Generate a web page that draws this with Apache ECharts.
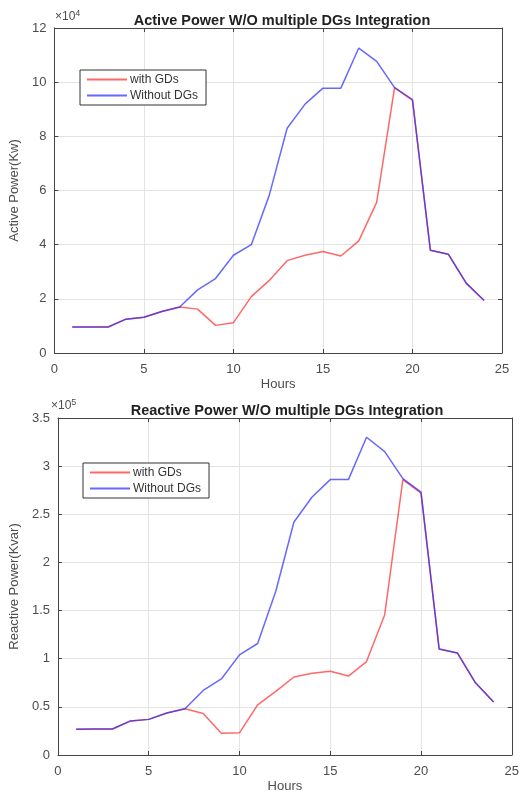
<!DOCTYPE html>
<html><head><meta charset="utf-8">
<script src="https://cdn.jsdelivr.net/npm/echarts@6/dist/echarts.min.js"></script>
<style>html,body{margin:0;padding:0;background:#fff}#c{width:522px;height:794px}</style>
</head><body><div id="c"></div>
<script>
const hours = [1,2,3,4,5,6,7,8,9,10,11,12,13,14,15,16,17,18,19,20,21,22,23,24];
const activeWithGDs = [9600,9600,9600,12500,13200,15300,17000,16200,10200,11200,20800,26800,34100,36100,37500,35800,41400,55600,98000,93300,37900,36500,25800,19400];
const activeWithoutDGs = [9600,9600,9600,12500,13200,15300,17000,23300,27500,36100,40000,58200,83000,91900,97800,97800,112600,107700,98000,93600,37900,36500,25800,19400];
const reactiveWithGDs = [26800,27000,27000,35400,37000,43600,48000,43000,22700,23000,52000,66000,81000,85000,87000,82000,97000,145700,286000,272000,110000,106000,75000,55000];
const reactiveWithoutDGs = [26800,27000,27000,35400,37000,43600,48000,67000,79000,104000,115800,170000,242000,268000,286000,286000,330000,315000,287000,273000,110000,106000,75000,55000];
const legendNames = ['with GDs','Without DGs'];

const FONT = 'Liberation Sans, Arial, sans-serif';
const TXT = '#4d4d4d';
const AX = '#444';
const pairs = (xs, ys) => xs.map((x,i)=>[x, ys[i]]);

function xAxes(gi){
  return [{
    gridIndex: gi, type:'value', min:0, max:25, interval:5, position:'bottom',
    name:'Hours', nameLocation:'middle', nameGap: 25,
    nameTextStyle:{color:TXT, fontSize:13, fontFamily:FONT},
    axisLine:{show:true, onZero:false, lineStyle:{color:AX, width:1}},
    axisTick:{show:true, inside:true, length:4, lineStyle:{color:AX}},
    axisLabel:{color:TXT, fontSize:13, fontFamily:FONT, margin:10},
    splitLine:{show:true, lineStyle:{color:'#e3e3e3', width:1}}
  },{
    gridIndex: gi, type:'value', min:0, max:25, interval:5, position:'top',
    axisLine:{show:true, onZero:false, lineStyle:{color:AX, width:1}},
    axisTick:{show:true, inside:true, length:4, lineStyle:{color:AX}},
    axisLabel:{show:false}, splitLine:{show:false}
  }];
}
function yAxes(gi, max, interval, div, name, gap){
  return [{
    gridIndex: gi, type:'value', min:0, max:max, interval:interval, position:'left',
    name:name, nameLocation:'middle', nameGap:gap, nameRotate:90,
    nameTextStyle:{color:TXT, fontSize:13, fontFamily:FONT},
    axisLine:{show:true, onZero:false, lineStyle:{color:AX, width:1}},
    axisTick:{show:true, inside:true, length:4, lineStyle:{color:AX}},
    axisLabel:{color:TXT, fontSize:13, fontFamily:FONT, margin:8, formatter:v=>String(Math.round(v/div*10)/10)},
    splitLine:{show:true, lineStyle:{color:'#e3e3e3', width:1}}
  },{
    gridIndex: gi, type:'value', min:0, max:max, interval:interval, position:'right',
    axisLine:{show:true, onZero:false, lineStyle:{color:AX, width:1}},
    axisTick:{show:true, inside:true, length:4, lineStyle:{color:AX}},
    axisLabel:{show:false}, splitLine:{show:false}
  }];
}
function line(name, xi, yi, data, color){
  return {name:name, type:'line', xAxisIndex:xi, yAxisIndex:yi, data:data,
    symbol:'none', smooth:false, lineStyle:{color:color, width:1.5}, itemStyle:{color:color}, z:3};
}
const RED = 'rgba(255,40,40,0.7)';
const BLUE = 'rgba(40,40,255,0.7)';

function legend(left, top){
  return {data:legendNames, orient:'vertical', left:left, top:top, icon:'rect',
    itemWidth:40, itemHeight:2, itemGap:3,
    padding:[3,8,3,7], borderColor:'#333', borderWidth:1, backgroundColor:'#fff',
    textStyle:{fontSize:12, color:'#333', fontFamily:FONT, padding:[0,0,0,-2], lineHeight:13}};
}
const expStyle = (p)=>({text:'×10{s|'+p+'}', rich:{s:{fontSize:9, verticalAlign:'top', fill:TXT, padding:[0,0,7,0]}}, fontSize:12, fill:TXT, fontFamily:FONT});

const chart = echarts.init(document.getElementById('c'), null, {renderer:'canvas'});
chart.setOption({
  animation:false,
  backgroundColor:'#fff',
  title:[
    {text:'Active Power W/O multiple DGs Integration', left:277, top:8, textAlign:'center',
     textStyle:{fontSize:14.5, fontWeight:'bold', color:'#222', fontFamily:FONT}},
    {text:'Reactive Power W/O multiple DGs Integration', left:282, top:398, textAlign:'center',
     textStyle:{fontSize:14.5, fontWeight:'bold', color:'#222', fontFamily:FONT}}
  ],
  grid:[
    {left:53, right:20, top:28, height:325},
    {left:49, right:6, top:418, height:339}
  ],
  legend:[legend(80,70), legend(83,463)],
  xAxis:[...xAxes(0), ...xAxes(1)],
  yAxis:[...yAxes(0, 120000, 20000, 10000, 'Active Power(Kw)', 28),
         ...yAxes(1, 350000, 50000, 100000, 'Reactive Power(Kvar)', 30)],
  series:[
    line(legendNames[0], 0, 0, pairs(hours, activeWithGDs), RED),
    line(legendNames[1], 0, 0, pairs(hours, activeWithoutDGs), BLUE),
    line(legendNames[0], 2, 2, pairs(hours, reactiveWithGDs), RED),
    line(legendNames[1], 2, 2, pairs(hours, reactiveWithoutDGs), BLUE)
  ],
  graphic:[
    {type:'text', left:55, top:9, style:expStyle(4)},
    {type:'text', left:51, top:398, style:expStyle(5)}
  ]
});
</script></body></html>
